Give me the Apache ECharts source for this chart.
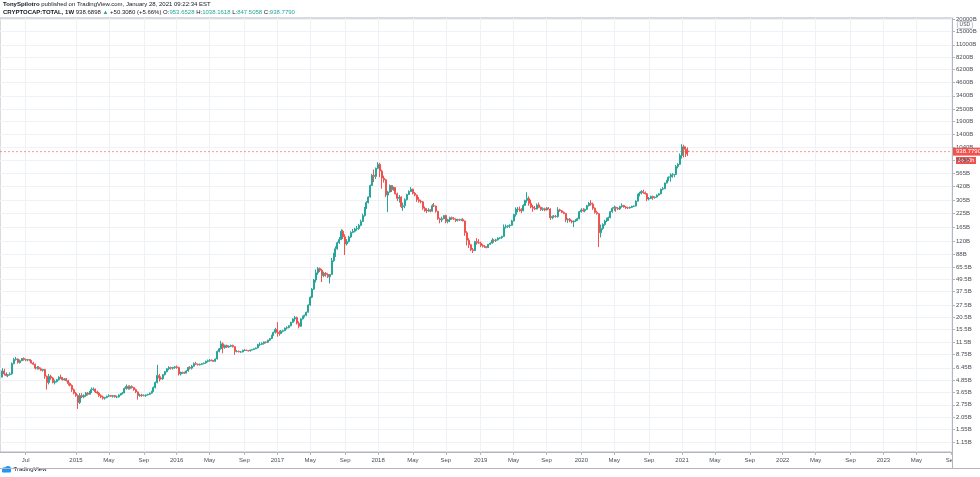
<!DOCTYPE html>
<html><head><meta charset="utf-8">
<script src="https://cdn.jsdelivr.net/npm/echarts@6/dist/echarts.min.js"></script>
<style>html,body{margin:0;padding:0;background:#fff;}#c{width:980px;height:477px;}</style>
</head><body><div id="c"></div>
<script>
// weekly bars, first bar Monday 2014-04-14; each row = [open, high, low, close] in billions USD
const firstWeek = [2014, 4, 14];
const y2014 = [[5.2,6.4,5.2,6.0],[6.0,6.3,5.4,5.6],[5.6,5.8,5.3,5.4],[5.4,5.6,5.2,5.5],[5.5,5.8,5.4,5.6],[5.6,7.3,5.5,7.1],[7.1,8.1,7.0,7.8],[7.8,8.3,7.6,7.9],[7.9,8.0,7.1,7.3],[7.3,7.8,7.1,7.6],[7.6,8.1,7.5,8.0],[8.0,8.2,7.6,7.8],[7.8,8.0,7.5,7.7],[7.7,7.9,7.5,7.8],[7.8,7.9,7.5,7.6],[7.6,7.7,7.1,7.2],[7.2,7.4,6.9,7.0],[7.0,7.1,6.2,6.4],[6.4,6.7,6.2,6.5],[6.5,6.7,6.2,6.3],[6.3,6.5,6.0,6.1],[6.1,6.3,5.9,6.2],[6.2,6.3,5.0,5.3],[5.3,5.4,3.9,4.6],[4.6,5.6,4.4,5.3],[5.3,5.5,4.9,5.1],[5.1,5.2,4.5,4.6],[4.6,4.9,4.4,4.7],[4.7,5.0,4.6,4.9],[4.9,5.3,4.8,5.2],[5.2,5.5,5.0,5.1],[5.1,5.2,4.8,4.9],[4.9,5.1,4.8,5.0],[5.0,5.1,4.7,4.8],[4.8,4.9,4.3,4.5],[4.5,4.6,4.2,4.3],[4.3,4.4,3.7,3.9],[3.9,4.0,3.5,3.6]];
const y2015 = [[3.6,3.7,3.3,3.4],[3.4,3.5,2.5,2.9],[2.9,3.6,2.8,3.4],[3.4,3.6,3.2,3.3],[3.3,3.5,3.2,3.4],[3.4,3.7,3.3,3.6],[3.6,3.7,3.4,3.5],[3.5,3.8,3.5,3.7],[3.7,4.1,3.6,3.9],[3.9,4.1,3.8,3.95],[3.95,4.0,3.6,3.7],[3.7,3.8,3.5,3.6],[3.6,3.7,3.3,3.4],[3.4,3.5,3.2,3.3],[3.3,3.4,3.1,3.2],[3.2,3.3,3.1,3.25],[3.25,3.4,3.2,3.35],[3.35,3.5,3.3,3.4],[3.4,3.45,3.3,3.35],[3.35,3.45,3.25,3.4],[3.4,3.45,3.25,3.3],[3.3,3.4,3.2,3.3],[3.3,3.5,3.25,3.45],[3.45,3.6,3.4,3.55],[3.55,3.7,3.5,3.6],[3.6,4.1,3.6,4.0],[4.0,4.4,3.9,4.2],[4.2,4.3,3.9,4.0],[4.0,4.3,3.9,4.2],[4.2,4.3,4.0,4.1],[4.1,4.15,3.8,3.9],[3.9,4.0,3.6,3.7],[3.7,3.75,3.1,3.4],[3.4,3.55,3.3,3.45],[3.45,3.55,3.3,3.4],[3.4,3.5,3.35,3.4],[3.4,3.5,3.3,3.45],[3.45,3.55,3.4,3.5],[3.5,3.65,3.45,3.6],[3.6,3.8,3.55,3.75],[3.75,4.2,3.7,4.1],[4.1,4.7,4.0,4.6],[4.6,6.9,4.5,5.4],[5.4,5.6,4.7,5.1],[5.1,5.3,4.9,5.0],[5.0,5.6,4.9,5.5],[5.5,6.0,5.4,5.9],[5.9,6.4,5.8,6.3],[6.3,6.7,6.1,6.5],[6.5,6.6,6.2,6.4],[6.4,6.6,6.2,6.5],[6.5,6.7,6.3,6.6]];
const y2016 = [[6.6,6.8,6.3,6.5],[6.5,6.6,5.4,5.6],[5.6,5.9,5.4,5.7],[5.7,5.9,5.6,5.8],[5.8,5.9,5.6,5.7],[5.7,6.1,5.7,6.0],[6.0,6.6,5.9,6.5],[6.5,6.7,6.2,6.4],[6.4,6.9,6.2,6.7],[6.7,7.3,6.6,7.1],[7.1,7.4,6.9,7.0],[7.0,7.1,6.8,6.9],[6.9,7.1,6.8,7.0],[7.0,7.2,6.9,7.1],[7.1,7.3,7.0,7.2],[7.2,7.6,7.1,7.5],[7.5,7.8,7.3,7.6],[7.6,7.9,7.4,7.7],[7.7,7.8,7.5,7.6],[7.6,7.7,7.4,7.5],[7.5,8.0,7.4,7.9],[7.9,9.6,7.8,9.4],[9.4,10.2,9.2,10.0],[10.0,12.0,9.8,11.2],[11.2,11.6,9.0,10.3],[10.3,11.0,10.0,10.8],[10.8,11.0,10.2,10.4],[10.4,10.8,10.2,10.6],[10.6,11.0,10.4,10.8],[10.8,11.0,10.3,10.5],[10.5,10.6,8.7,9.4],[9.4,9.7,9.2,9.4],[9.4,9.6,9.2,9.3],[9.3,9.5,9.1,9.3],[9.3,9.8,9.2,9.6],[9.6,9.9,9.5,9.7],[9.7,9.8,9.5,9.6],[9.6,9.7,9.4,9.5],[9.5,9.8,9.4,9.7],[9.7,9.9,9.6,9.8],[9.8,10.1,9.7,10.0],[10.0,10.3,9.9,10.2],[10.2,11.2,10.1,11.0],[11.0,11.6,10.6,11.1],[11.1,11.6,10.9,11.3],[11.3,11.8,11.0,11.7],[11.7,11.9,11.3,11.6],[11.6,12.3,11.4,12.2],[12.2,12.8,12.0,12.7],[12.7,13.8,12.5,13.6],[13.6,14.8,13.4,14.6],[14.6,16.2,14.2,15.6]];
const y2017 = [[15.6,18.5,13.2,14.6],[14.6,15.2,13.5,14.2],[14.2,15.4,14.0,15.0],[15.0,15.5,14.6,15.2],[15.2,16.3,15.0,16.1],[16.1,16.8,15.6,16.3],[16.3,17.2,16.0,17.0],[17.0,18.6,16.8,18.4],[18.4,20.2,18.2,19.9],[19.9,21.3,18.8,20.5],[20.5,21.0,17.5,18.0],[18.0,18.8,16.0,16.8],[16.8,20.2,16.6,19.9],[19.9,21.5,19.6,21.0],[21.0,22.0,20.6,21.6],[21.6,23.5,21.2,23.2],[23.2,27.8,23.0,27.4],[27.4,33.5,27.0,32.8],[32.8,40.5,32.0,39.5],[39.5,50.0,38.8,48.8],[48.8,62.0,46.0,57.5],[57.5,65.8,55.0,63.5],[63.5,65.0,58.5,61.0],[61.0,63.0,46.5,54.0],[54.0,59.0,52.0,57.0],[57.0,58.5,52.5,55.5],[55.5,57.0,51.0,52.5],[52.5,56.0,45.0,55.5],[55.5,81.0,55.0,76.0],[76.0,91.0,74.0,85.0],[85.0,106,83.0,100],[100,118,98,115],[115,131,112,124],[124,157,122,150],[150,155,125,132],[132,140,86.7,112],[112,125,108,118],[118,135,116,131],[131,150,129,146],[146,158,143,150],[150,162,146,158],[158,170,152,160],[160,178,155,172],[172,196,168,188],[188,225,185,215],[215,262,210,255],[255,300,250,290],[290,335,285,330],[330,440,325,430],[430,560,425,545],[545,620,465,530],[530,650,500,640]];
const y2018 = [[640,736,625,700],[700,725,520,600],[600,620,400,510],[510,540,460,490],[490,500,330,345],[345,380,233,370],[370,440,365,430],[430,435,370,390],[390,420,380,410],[410,415,350,355],[355,365,300,320],[320,345,290,330],[330,335,255,265],[265,290,240,270],[270,320,255,310],[310,355,305,350],[350,385,345,375],[375,414,370,395],[395,400,350,360],[360,370,335,345],[345,350,295,310],[310,330,290,300],[300,310,285,295],[295,300,245,255],[255,265,235,245],[245,255,228,240],[240,255,235,245],[245,250,232,238],[238,280,235,270],[270,287,262,268],[268,270,230,238],[238,240,195,200],[200,205,180,195],[195,210,185,200],[200,218,198,215],[215,220,180,188],[188,200,180,195],[195,210,185,205],[205,210,195,200],[200,208,195,198],[198,202,185,192],[192,200,188,196],[196,200,190,194],[194,200,190,196],[196,203,188,190],[190,192,135,145],[145,150,108,122],[122,128,102,110],[110,112,95,98],[98,102,91,96],[96,120,95,118],[118,128,110,115]];
const y2019 = [[115,125,112,114],[114,118,104,108],[108,112,103,106],[106,109,102,104],[104,106,101,103],[103,112,102,111],[111,116,109,114],[114,128,113,122],[122,125,115,121],[121,126,117,123],[123,130,121,128],[128,131,125,129],[129,135,126,133],[133,175,132,165],[165,175,160,168],[168,173,162,170],[170,176,162,172],[172,195,170,190],[190,225,188,220],[220,260,210,245],[245,262,232,250],[250,265,235,248],[248,255,228,240],[240,280,238,272],[272,310,270,305],[305,369,290,320],[320,335,270,285],[285,310,255,262],[262,275,235,255],[255,268,245,250],[250,285,248,275],[275,290,255,260],[260,265,240,248],[248,260,240,252],[252,258,238,245],[245,262,242,255],[255,262,248,250],[250,255,195,205],[205,215,198,210],[210,218,204,212],[212,218,205,210],[210,261,205,245],[245,252,235,240],[240,245,228,232],[232,236,222,226],[226,228,185,195],[195,202,182,198],[198,203,185,190],[190,195,180,186],[186,192,165,190],[190,198,186,194],[194,205,190,200]];
const y2020 = [[200,240,198,235],[235,255,230,245],[245,255,235,240],[240,252,232,248],[248,275,245,270],[270,295,265,285],[285,307,270,280],[280,290,245,255],[255,260,225,232],[232,240,220,225],[225,228,104,145],[145,175,130,160],[160,180,155,175],[175,195,170,190],[190,205,185,195],[195,210,190,205],[205,240,202,235],[235,260,230,255],[255,270,240,260],[260,265,235,255],[255,262,245,250],[250,270,245,265],[265,285,258,272],[272,275,258,262],[262,268,250,258],[258,264,250,256],[256,265,252,260],[260,270,256,266],[266,272,262,268],[268,305,266,300],[300,355,298,345],[345,372,335,360],[360,386,350,375],[375,390,355,365],[365,375,350,355],[355,362,300,315],[315,330,305,320],[320,340,315,335],[335,340,310,325],[325,335,318,330],[330,350,325,345],[345,360,340,355],[355,400,350,395],[395,415,385,400],[400,460,395,455],[455,490,450,480],[480,530,475,520],[520,570,470,525],[525,573,515,550],[550,560,520,555],[555,690,550,665],[665,720,640,700],[700,900,690,860]];
const y2021 = [[860,1114,800,1050],[1050,1100,820,990],[990,1060,830,888.38],[953.6528,1038.1618,847.5058,938.779]];

const priceTicks = [20000,15000,11000,8200,6200,4600,3400,2500,1900,1400,1040,765,565,420,305,225,165,120,88,65.5,49.5,37.5,27.5,20.5,15.5,11.5,8.75,6.45,4.85,3.65,2.75,2.05,1.55,1.15];
const timeTicks = [[2014,7,7],[2015,1,5],[2015,5,4],[2015,9,7],[2016,1,4],[2016,5,2],[2016,9,5],[2017,1,2],[2017,5,1],[2017,9,4],[2018,1,1],[2018,5,7],[2018,9,3],[2019,1,7],[2019,5,6],[2019,9,2],[2020,1,6],[2020,5,4],[2020,9,7],[2021,1,4],[2021,5,3],[2021,9,6],[2022,1,3],[2022,5,2],[2022,9,5],[2023,1,2],[2023,5,1],[2023,9,4]];
const lastPrice = 938.779;
const lastPriceText = '938.7790';
const countdownText = '3d 10h';

const monthNames = ['Jan','Feb','Mar','Apr','May','Jun','Jul','Aug','Sep','Oct','Nov','Dec'];
const rows = [].concat(y2014, y2015, y2016, y2017, y2018, y2019, y2020, y2021);
const data = rows.map((r, i) => [new Date(firstWeek[0], firstWeek[1]-1, firstWeek[2] + 7*i).getTime(), r[0], r[3], r[2], r[1]]);
const tickTimes = timeTicks.map(t => new Date(t[0], t[1]-1, t[2]).getTime());
const xMin = new Date(2014, 3, 5, 5).getTime();
const xMax = new Date(2023, 8, 7).getTime();

const UP = '#26a69a', DOWN = '#ef5350', GRID = '#eef1f6', AXIS = '#b2b5be', TXT = '#4a4d57';
const FONT = '"Liberation Sans", Arial, sans-serif';

const chart = echarts.init(document.getElementById('c'), null, {renderer: 'canvas'});
chart.setOption({
  animation: false,
  backgroundColor: '#fff',
  grid: {left: 0, right: 28, top: 18, bottom: 25, show: true, borderColor: AXIS, borderWidth: 1, backgroundColor: 'transparent'},
  xAxis: {
    type: 'value', min: xMin, max: xMax,
    axisLine: {show: true, lineStyle: {color: AXIS}},
    axisTick: {show: true, customValues: tickTimes, length: 3, inside: false, lineStyle: {color: AXIS}},
    splitLine: {show: true, lineStyle: {color: GRID, width: 1}},
    axisLabel: {customValues: tickTimes, fontSize: 6, fontFamily: FONT, color: TXT, margin: 5, hideOverlap: false, showMinLabel: true, showMaxLabel: true,
      formatter: v => { const d = new Date(v); return d.getMonth() === 0 ? String(d.getFullYear()) : monthNames[d.getMonth()]; }}
  },
  yAxis: {
    type: 'log', logBase: 10, position: 'right',
    min: 0.927, max: 20400,
    axisLine: {show: true, lineStyle: {color: AXIS}},
    axisTick: {show: true, customValues: priceTicks, length: 3, lineStyle: {color: AXIS}},
    splitLine: {show: true, lineStyle: {color: GRID, width: 1}},
    axisLabel: {customValues: priceTicks, fontSize: 6, fontFamily: FONT, color: TXT, margin: 4, showMinLabel: true, showMaxLabel: true,
      formatter: v => (v >= 100 ? String(Math.round(v)) : String(parseFloat(Number(v).toPrecision(3)))) + 'B'}
  },
  series: [{
    type: 'candlestick',
    data: data,
    encode: {x: 0, y: [1, 2, 3, 4]},
    barWidth: 1.5,
    z: 3,
    itemStyle: {color: UP, color0: DOWN, borderColor: UP, borderColor0: DOWN, borderWidth: 1}
  }, {
    // current-price line, drawn through the axes at the last close
    type: 'line',
    data: [[xMin, lastPrice], [xMax, lastPrice]],
    symbol: 'none', silent: true, z: 2, color: DOWN,
    lineStyle: {color: DOWN, type: [2, 2], width: 1, opacity: 0.6},
    endLabel: {show: true, formatter: lastPriceText, backgroundColor: DOWN, color: '#fff', fontSize: 6, fontFamily: FONT, padding: [1, 3, 1, 3], distance: 1}
  }],
  graphic: [
    {type: 'text', left: 3, top: 1, z: 100, style: {text: '{b|TonySpilotro} published on TradingView.com, January 28, 2021 09:22:34 EST', fontSize: 6, fontFamily: FONT, fill: '#131722', rich: {b: {fontWeight: 'bold', fontSize: 6, fontFamily: FONT}}}},
    {type: 'text', left: 3, top: 9, z: 100, style: {text: '{b|CRYPTOCAP:TOTAL, 1W} 938.6898 {g|▲} +50.3080 (+5.66%) O:{g|953.6528} H:{g|1038.1618} L:{g|847.5058} C:{g|938.7790}', fontSize: 6, fontFamily: FONT, fill: '#131722', rich: {b: {fontWeight: 'bold', fontSize: 6, fontFamily: FONT}, g: {fill: UP, color: UP, fontSize: 6, fontFamily: FONT}}}},
    {type: 'rect', shape: {x: 952.5, y: 452.5, width: 27, height: 24}, style: {fill: '#fff'}, z: 100},
    {type: 'line', shape: {x1: 0, y1: 468.5, x2: 980, y2: 468.5}, style: {stroke: AXIS, lineWidth: 1}, z: 101},
    {type: 'line', shape: {x1: 952.5, y1: 452, x2: 952.5, y2: 469}, style: {stroke: AXIS, lineWidth: 1}, z: 101},
    {type: 'group', left: 957, top: 21, z: 100, children: [
      {type: 'rect', shape: {x: 0, y: 0, width: 15, height: 7, r: 1}, style: {fill: '#fff', stroke: AXIS, lineWidth: 0.8}},
      {type: 'text', x: 7.5, y: 3.5, style: {text: 'USD', fontSize: 5, fontFamily: FONT, fill: TXT, align: 'center', verticalAlign: 'middle'}}
    ]},
    {type: 'group', left: 956, top: 157, z: 100, children: [
      {type: 'rect', shape: {x: 0, y: 0, width: 20, height: 7}, style: {fill: DOWN}},
      {type: 'text', x: 10, y: 3.5, style: {text: countdownText, fontSize: 5.5, fontFamily: FONT, fill: '#fff', align: 'center', verticalAlign: 'middle'}}
    ]},
    {type: 'group', left: 2, top: 466, z: 100, children: [
      {type: 'circle', shape: {cx: 4, cy: 4, r: 2.5}, style: {fill: '#2196f3'}},
      {type: 'circle', shape: {cx: 7.5, cy: 3.2, r: 3}, style: {fill: '#2196f3'}},
      {type: 'rect', shape: {x: 1.5, y: 4, width: 9, height: 2.8, r: 1}, style: {fill: '#2196f3'}},
      {type: 'text', x: 13, y: 4, style: {text: 'TradingView', fontSize: 6, fontFamily: FONT, fill: '#131722', verticalAlign: 'middle'}}
    ]}
  ]
});
</script></body></html>
